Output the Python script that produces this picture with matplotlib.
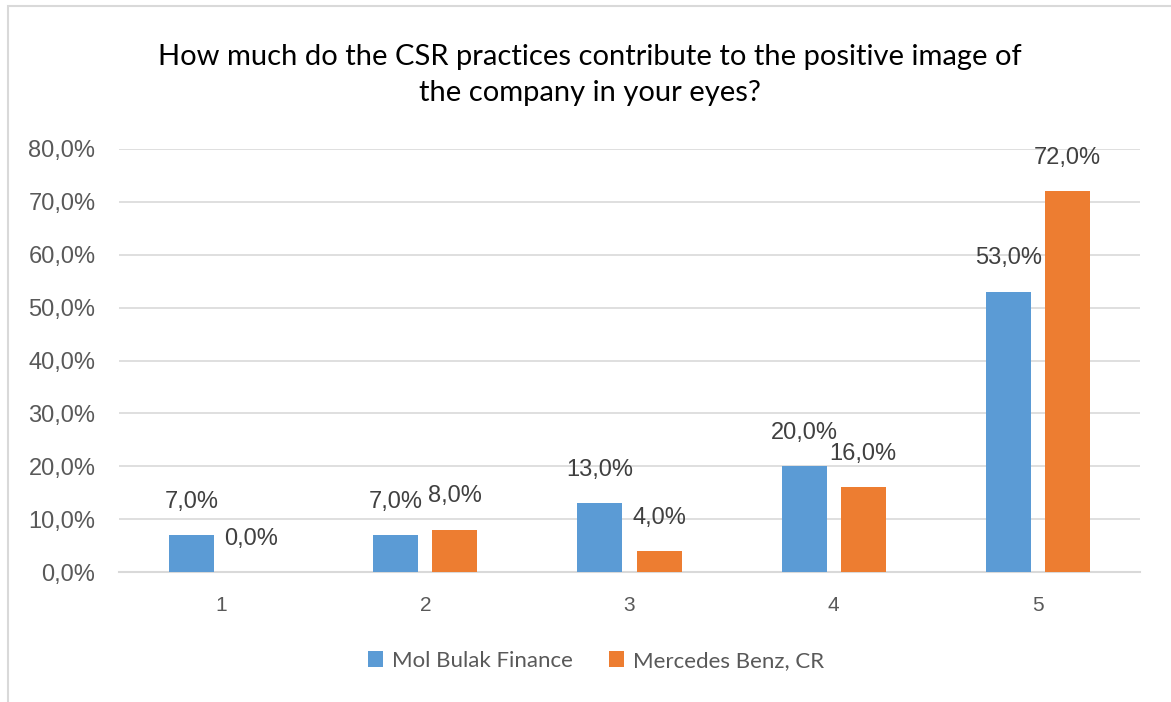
import numpy as np
import matplotlib
matplotlib.use("Agg")
import matplotlib.pyplot as plt
from matplotlib.patches import Rectangle

# data
categories = ["1", "2", "3", "4", "5"]
mol_bulak = [7.0, 7.0, 13.0, 20.0, 53.0]
mercedes = [0.0, 8.0, 4.0, 16.0, 72.0]
series_names = ["Mol Bulak Finance", "Mercedes Benz, CR"]
yticks = [0, 10, 20, 30, 40, 50, 60, 70, 80]

BLUE = "#5B9BD5"
ORANGE = "#ED7D31"
GREY = "#595959"

fig = plt.figure(figsize=(11.71, 7.02), dpi=100)
# chart border (left/top visible only)
fig.patches.append(Rectangle((8 / 1171, -0.05), 1.2, 1 - 6 / 702 + 0.05,
                             transform=fig.transFigure, fill=False,
                             edgecolor="#D9D9D9", lw=1.5))

ax = fig.add_axes([119 / 1171, 1 - 572 / 702, (1140 - 119) / 1171, (572 - 149) / 702])
x = np.arange(len(categories))
w = 0.22
off = 0.145
b1 = ax.bar(x - off, mol_bulak, w, color=BLUE, zorder=3, label=series_names[0])
b2 = ax.bar(x + off, mercedes, w, color=ORANGE, zorder=3, label=series_names[1])

for bars, vals in [(b1, mol_bulak), (b2, mercedes)]:
    for r, v in zip(bars, vals):
        ax.annotate(f"{v:.1f}%".replace(".", ","),
                    (r.get_x() + r.get_width() / 2, r.get_height()),
                    xytext=(0, 24), textcoords="offset points",
                    ha="center", va="center", fontsize=17, color="#404040",
                    family="Liberation Sans")

ax.set_xlim(-0.5, len(categories) - 0.5)
ax.set_ylim(0, 80)
ax.set_yticks(yticks)
ax.set_yticklabels([f"{t:.1f}%".replace(".", ",") for t in yticks],
                   fontsize=17, color=GREY, family="Liberation Sans")
ax.set_xticks(x)
ax.set_xticklabels(categories, fontsize=15, color=GREY, family="Liberation Sans")
ax.tick_params(axis="x", length=0, pad=17)
ax.tick_params(axis="y", length=0, pad=17)
ax.grid(axis="y", color="#D9D9D9", lw=1.2, zorder=0)
for s in ["top", "right", "left"]:
    ax.spines[s].set_visible(False)
ax.spines["bottom"].set_color("#D9D9D9")
ax.spines["bottom"].set_linewidth(1.5)

fig.text(0.504, 1 - 75 / 702,
         "How much do the CSR practices contribute to the positive image of\n"
         "the company in your eyes?",
         ha="center", va="center", fontsize=21, family="Lato",
         linespacing=1.5, color="black")

fig.legend(handles=[b1, b2], loc="center", bbox_to_anchor=(0.509, 1 - 661 / 702),
           ncol=2, frameon=False, prop={"family": "Lato", "size": 16},
           labelcolor=GREY, handlelength=0.7, handleheight=0.7,
           handletextpad=0.4, columnspacing=1.6)

fig.savefig("out.png", dpi=100)
